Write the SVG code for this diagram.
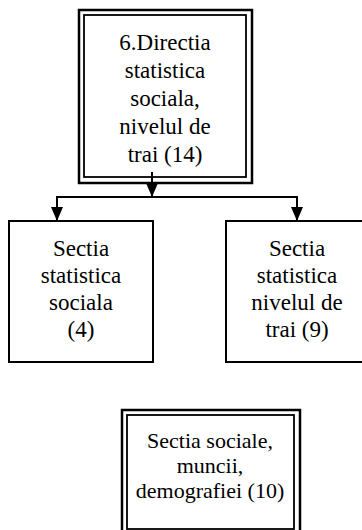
<svg xmlns="http://www.w3.org/2000/svg" width="362" height="530" viewBox="0 0 362 530">
<defs>
<style>
.box{fill:#fff;stroke:#000;stroke-width:2}
.outer{fill:none;stroke:#000;stroke-width:2.5}
.inner{fill:none;stroke:#000;stroke-width:1.8}
.ln{stroke:#000;stroke-width:2;fill:none}
</style>
<marker id="ah" viewBox="0 0 14 12" refX="14" refY="6" markerWidth="14" markerHeight="12" markerUnits="userSpaceOnUse" orient="auto">
<path d="M0,0 L14,6 L0,12 Z" fill="#000"/>
</marker>
</defs>
<rect width="362" height="530" fill="#fff"/>
<g id="node-top" text-anchor="middle" font-size="23">
<rect x="79" y="10" width="173" height="173" class="outer"/>
<rect x="84" y="15" width="162" height="162" class="inner"/>
<text x="165" y="50" font-family="'Liberation Serif', serif">6.Directia</text>
<text x="165" y="78" font-family="'Liberation Serif', serif">statistica</text>
<text x="165" y="106" font-family="'Liberation Serif', serif">sociala,</text>
<text x="165" y="134" font-family="'Liberation Serif', serif">nivelul de</text>
<text x="165" y="162" font-family="'Liberation Serif', serif">trai (14)</text>
</g>
<g id="node-left" text-anchor="middle" font-size="23">
<rect x="9" y="221" width="144" height="141" class="box"/>
<text x="81" y="256" font-family="'Liberation Serif', serif">Sectia</text>
<text x="81" y="283" font-family="'Liberation Serif', serif">statistica</text>
<text x="81" y="310" font-family="'Liberation Serif', serif">sociala</text>
<text x="81" y="337" font-family="'Liberation Serif', serif">(4)</text>
</g>
<g id="node-right" text-anchor="middle" font-size="23">
<rect x="226" y="221" width="142" height="141" class="box"/>
<text x="297" y="256" font-family="'Liberation Serif', serif">Sectia</text>
<text x="297" y="283" font-family="'Liberation Serif', serif">statistica</text>
<text x="297" y="310" font-family="'Liberation Serif', serif">nivelul de</text>
<text x="297" y="337" font-family="'Liberation Serif', serif">trai (9)</text>
</g>
<g id="node-bottom" text-anchor="middle" font-size="22">
<rect x="122" y="410" width="178" height="126" class="outer"/>
<rect x="127" y="415" width="167" height="114" class="inner"/>
<text x="210" y="448" font-family="'Liberation Serif', serif">Sectia sociale,</text>
<text x="210" y="473" font-family="'Liberation Serif', serif">muncii,</text>
<text x="210" y="498" font-family="'Liberation Serif', serif">demografiei (10)</text>
</g>
<g id="connectors">
<line x1="152" y1="172" x2="152" y2="197" class="ln" marker-end="url(#ah)"/>
<polyline points="57,206 57,197 297,197 297,206" class="ln"/>
<line x1="57" y1="197" x2="57" y2="221" class="ln" marker-end="url(#ah)"/>
<line x1="297" y1="197" x2="297" y2="221" class="ln" marker-end="url(#ah)"/>
</g>
</svg>
